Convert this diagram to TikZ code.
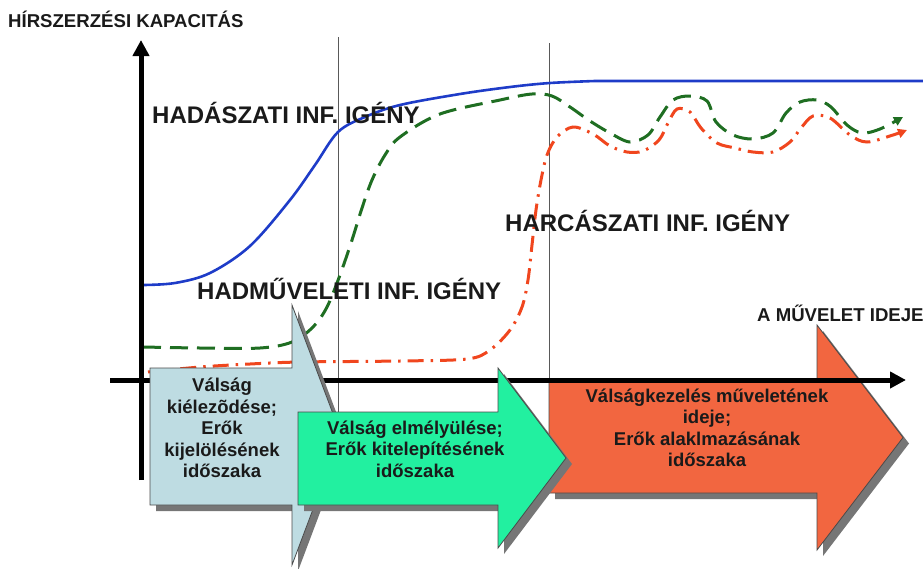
\documentclass[tikz,border=0pt]{standalone}
\usepackage{fontspec}
\setmainfont{Liberation Sans}
\usetikzlibrary{arrows.meta}
\definecolor{bluec}{HTML}{1E3CC8}
\definecolor{greenc}{HTML}{1F6E22}
\definecolor{redc}{HTML}{F0461E}
\definecolor{arrA}{HTML}{BEDCE2}
\definecolor{arrB}{HTML}{22F0A0}
\definecolor{arrC}{HTML}{F26640}
\definecolor{shadowc}{HTML}{767676}
\definecolor{edgec}{HTML}{4A4A4A}
\definecolor{txtc}{HTML}{1A1A1A}
\newcommand\blkarrow[8]{%
  \fill[shadowc, shift={(6,6)}] (#2,#3) -- (#5,#3) -- (#5,#6) -- (#8,{(#6+#7)/2}) -- (#5,#7) -- (#5,#4) -- (#2,#4) -- cycle;
  \filldraw[fill=#1, draw=edgec, line width=0.8pt] (#2,#3) -- (#5,#3) -- (#5,#6) -- (#8,{(#6+#7)/2}) -- (#5,#7) -- (#5,#4) -- (#2,#4) -- cycle;
}
\tikzset{
  biglabel/.style={inner sep=0pt, anchor=base west, font=\bfseries\fontsize{24}{28}\selectfont, text=txtc},
  smalllabel/.style={inner sep=0pt, anchor=base west, font=\bfseries\fontsize{18.6}{22}\selectfont, text=txtc},
  arrtext/.style={align=center, inner sep=0pt, font=\bfseries\fontsize{18.5}{21.5}\selectfont, text=txtc},
  axisline/.style={line width=5pt, -{Triangle[length=16pt,width=16pt]}},
  guide/.style={draw=black!65, line width=0.9pt}
}
\begin{document}
\begin{tikzpicture}[x=1pt,y=-1pt]
\useasboundingbox (0,0) rectangle (923,568);
% guide lines
\coordinate (g1t) at (338,37); \coordinate (g1b) at (338,412);
\coordinate (g2t) at (549,43); \coordinate (g2b) at (549,382);
\draw[guide] (g1t) -- (g1b);
\draw[guide] (g2t) -- (g2b);
% curves
\draw[bluec, line width=2.6pt] plot[smooth, tension=0.55] coordinates {(143,285) (175,283) (210,273) (250,246) (290,200) (315,165) (338,132) (365,117) (400,105) (460,94) (510,87) (550,83) (595,81)} -- (923,81);
\draw[greenc, line width=3pt, dash pattern=on 18pt off 9pt, -{Triangle[length=9pt,width=9pt]}] plot[smooth, tension=0.55] coordinates {(143,347) (200,348) (260,348) (292,342) (313,327) (327,307) (340,275) (352,240) (362,208) (372,180) (385,155) (400,137) (440,114) (500,100) (532,94) (552,96) (570,107) (590,121) (610,133) (630,142) (648,135) (660,117) (673,100) (690,96) (707,101) (716,122) (733,135) (753,139) (773,133) (786,113) (800,102) (817,100) (831,107) (847,125) (862,133) (880,129) (903,117)};
\draw[redc, line width=3pt, dash pattern=on 16pt off 7pt on 2.5pt off 7pt, -{Triangle[length=9pt,width=9pt]}] plot[smooth, tension=0.55] coordinates {(148,372) (200,367) (250,364) (300,362) (400,361) (467,359) (490,350) (510,330) (522,307) (528,280) (532,245) (536,210) (541,180) (547,155) (557,137) (573,127) (593,134) (610,146) (627,152) (643,151) (659,140) (668,123) (677,109) (690,112) (701,128) (717,143) (735,148) (753,152) (773,152) (790,142) (801,128) (813,116) (830,118) (850,135) (867,142) (893,135) (907,130)};
% red block arrow
\blkarrow{arrC}{549}{381}{493}{817}{325}{550}{903}
% axes
\coordinate (xs) at (110,380); \coordinate (xe) at (906,380);
\coordinate (ys) at (141,480); \coordinate (ye) at (141,40);
\draw[axisline] (xs) -- (xe);
\draw[axisline] (ys) -- (ye);
% blue and green block arrows
\blkarrow{arrA}{150}{368}{505}{292}{305}{565}{341}
\blkarrow{arrB}{298}{412}{505}{498}{368}{548}{566}
% texts
\node[smalllabel] (title) at (8,27) {HÍRSZERZÉSI KAPACITÁS};
\node[biglabel] (had) at (152,123) {HADÁSZATI INF. IGÉNY};
\node[biglabel] (hadm) at (197,299) {HADMŰVELETI INF. IGÉNY};
\node[biglabel] (harc) at (505,231) {HARCÁSZATI INF. IGÉNY};
\node[smalllabel] (ido) at (757,321) {A MŰVELET IDEJE};
\node[arrtext] (t1) at (222,428) {Válság\\kiélezõdése;\\Erők\\kijelölésének\\időszaka};
\node[arrtext] (t2) at (415,449) {Válság elmélyülése;\\Erők kitelepítésének\\időszaka};
\node[arrtext] (t3) at (707,428) {Válságkezelés műveletének\\ideje;\\Erők alaklmazásának\\időszaka};
\end{tikzpicture}
\end{document}
